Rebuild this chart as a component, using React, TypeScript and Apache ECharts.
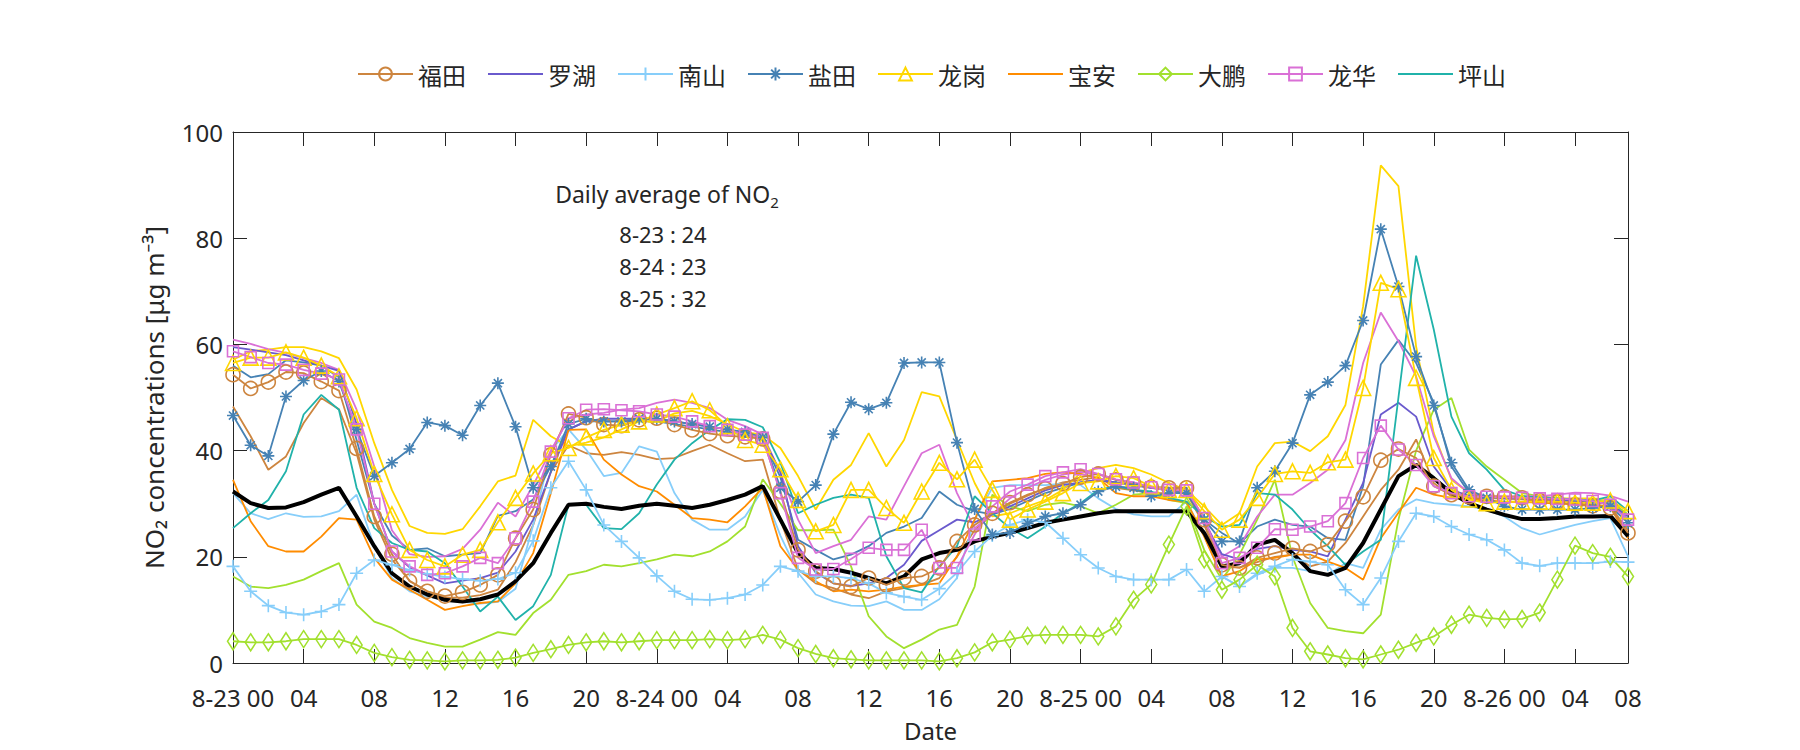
import React, { useEffect, useRef } from "react";
import * as echarts from "echarts";

// ---------- data ----------
const STATIONS = ["福田", "罗湖", "南山", "盐田", "龙岗", "宝安", "大鹏", "龙华", "坪山"];
const HOURS: string[] = Array.from({ length: 80 }, (_, i) => String(i));
const TICK_POS = [0, 4, 8, 12, 16, 20, 24, 28, 32, 36, 40, 44, 48, 52, 56, 60, 64, 68, 72, 76, 79];
const TICK_LABELS = ["8-23 00", "04", "08", "12", "16", "20", "8-24 00", "04", "08", "12", "16", "20",
  "8-25 00", "04", "08", "12", "16", "20", "8-26 00", "04", "08"];
const Y_TICKS = [0, 20, 40, 60, 80, 100];
const DAILY_DATES = ["8-23", "8-24", "8-25"];
const DAILY_AVG = [24, 23, 32];

// 福田 (markers) and companion plain line
const FT_O = [54.3, 51.7, 52.9, 54.8, 54.6, 53.0, 51.3, 40.4, 27.6, 20.5, 15.4, 13.5, 12.6, 13.3, 14.7, 16.6, 23.5, 28.9, 39.2, 46.9,
  46.2, 44.9, 44.7, 45.8, 46.1, 44.9, 43.9, 43.2, 42.8, 42.6, 42.2, 32.3, 21.3, 17.3, 15.0, 14.4, 16.0, 14.7, 16.0, 16.3,
  17.9, 22.9, 26.0, 28.2, 30.2, 31.7, 32.8, 33.8, 35.0, 35.6, 34.5, 33.8, 33.1, 33.0, 33.0, 27.0, 18.5, 17.9, 19.8, 20.7,
  21.6, 21.0, 22.3, 26.7, 31.3, 38.2, 40.3, 38.6, 33.3, 31.7, 31.3, 31.4, 31.3, 31.1, 30.6, 30.3, 29.8, 29.6, 29.2, 24.5];
const FT_M = [48.3, 42.7, 36.4, 38.9, 45.2, 49.9, 47.8, 39.5, 27.0, 19.5, 15.5, 13.5, 12.3, 12.3, 12.8, 13.8, 19.0, 26.0, 36.0, 41.0,
  39.5, 39.2, 39.7, 39.2, 38.4, 38.6, 39.9, 41.1, 39.5, 38.0, 38.3, 27.0, 17.6, 15.0, 14.1, 12.9, 12.2, 13.5, 14.1, 14.7,
  16.0, 20.0, 25.0, 28.0, 30.0, 31.5, 33.0, 34.0, 34.5, 35.0, 33.0, 32.5, 32.0, 32.0, 32.0, 26.0, 18.0, 18.0, 19.0, 20.0,
  20.4, 18.2, 19.1, 22.6, 27.6, 32.6, 36.4, 42.1, 33.9, 31.4, 31.0, 31.0, 31.0, 30.8, 30.5, 30.3, 30.0, 29.8, 29.5, 25.0];
// 罗湖
const LH = [59.5, 59.0, 58.5, 58.0, 57.0, 56.0, 55.0, 45.0, 30.0, 21.0, 18.0, 16.5, 15.0, 15.5, 16.0, 17.0, 21.0, 27.0, 36.0, 44.0,
  45.5, 46.0, 46.0, 46.0, 46.0, 45.5, 45.0, 44.5, 44.0, 43.0, 42.5, 36.0, 22.0, 17.0, 15.0, 14.5, 15.0, 16.0, 18.5, 23.0,
  25.0, 27.0, 26.5, 28.0, 29.5, 31.0, 32.5, 33.5, 34.0, 34.5, 34.0, 33.5, 33.0, 33.0, 32.5, 26.5, 20.5, 19.5, 21.5, 22.0,
  21.3, 21.0, 20.1, 27.0, 33.9, 46.8, 49.0, 46.4, 37.0, 32.6, 31.5, 31.3, 31.0, 31.0, 30.8, 30.6, 30.4, 30.2, 30.0, 27.6];
// 南山
const NS_O = [18.2, 13.5, 10.8, 9.5, 9.1, 9.7, 11.0, 16.9, 19.4, 18.5, 17.5, 16.8, 16.2, 15.8, 15.5, 15.8, 17.0, 23.0, 33.0, 38.0,
  32.6, 26.0, 22.9, 19.8, 16.4, 13.5, 12.0, 11.9, 12.2, 12.9, 14.7, 18.2, 17.3, 16.3, 16.3, 16.0, 15.0, 13.2, 12.5, 11.9,
  14.0, 17.0, 21.0, 24.0, 26.0, 27.0, 26.5, 23.5, 20.4, 17.9, 16.3, 15.7, 15.7, 15.7, 17.6, 13.5, 16.3, 14.4, 16.9, 18.2,
  19.5, 19.1, 18.5, 13.8, 11.0, 16.0, 22.9, 28.2, 27.6, 25.7, 24.2, 23.2, 21.3, 18.8, 18.3, 18.8, 18.8, 18.8, 19.1, 19.0];
const NS_M = [32.0, 28.2, 27.1, 28.2, 27.5, 27.6, 28.6, 31.7, 22.0, 16.0, 13.5, 12.5, 12.0, 11.5, 11.2, 11.5, 14.0, 26.0, 40.0, 44.0,
  40.2, 35.2, 35.8, 40.8, 39.8, 32.0, 27.0, 25.1, 25.1, 27.6, 32.6, 24.0, 17.0, 12.9, 11.6, 10.8, 10.7, 11.6, 10.0, 10.0,
  12.0, 16.0, 27.0, 33.0, 33.5, 33.5, 33.5, 33.8, 33.5, 31.0, 29.0, 28.0, 27.6, 27.6, 30.4, 24.0, 16.3, 14.4, 16.6, 17.9,
  17.9, 17.3, 16.6, 18.8, 17.9, 25.1, 28.9, 30.8, 30.1, 29.8, 29.5, 28.9, 27.6, 25.4, 24.2, 25.1, 26.0, 26.7, 27.3, 20.1];
// 盐田
const YT_O = [46.6, 41.0, 39.0, 50.2, 53.2, 55.0, 53.0, 44.0, 35.2, 37.7, 40.3, 45.3, 44.7, 42.9, 48.5, 52.7, 44.5, 33.0, 37.0, 45.0,
  46.0, 45.5, 45.5, 46.0, 46.0, 45.5, 45.0, 44.5, 44.0, 43.5, 42.5, 33.0, 30.4, 33.5, 43.1, 49.1, 47.8, 49.0, 56.5, 56.6,
  56.6, 41.5, 29.0, 24.2, 24.5, 26.3, 27.6, 28.2, 29.8, 32.3, 33.2, 33.0, 31.4, 32.0, 32.0, 27.0, 22.9, 22.9, 33.0, 36.1,
  41.4, 50.5, 52.9, 56.0, 64.5, 81.7, 70.9, 57.7, 48.5, 37.7, 32.6, 31.1, 29.5, 28.9, 28.9, 28.9, 28.9, 29.2, 29.5, 26.4];
const YT_M = [56.0, 53.8, 54.4, 57.0, 56.6, 56.0, 53.8, 42.0, 30.0, 24.0, 21.3, 21.6, 20.1, 20.4, 20.7, 27.7, 28.6, 30.8, 37.1, 44.0,
  45.5, 45.5, 45.5, 45.5, 45.5, 45.0, 44.5, 44.0, 43.5, 43.0, 42.0, 35.0, 23.2, 21.3, 19.5, 20.4, 22.0, 24.5, 25.7, 27.3,
  32.3, 29.8, 28.6, 28.0, 29.0, 30.5, 32.0, 33.0, 34.0, 34.5, 34.0, 33.5, 33.0, 32.5, 32.0, 27.0, 24.5, 22.5, 25.7, 27.0,
  26.0, 25.7, 23.5, 23.2, 33.3, 56.2, 60.8, 56.5, 49.0, 37.0, 32.0, 31.2, 31.0, 31.0, 30.8, 30.6, 30.5, 30.3, 30.0, 27.0];
// 龙岗
const LG_O = [56.5, 57.5, 57.5, 58.5, 57.5, 56.0, 54.0, 46.1, 35.6, 28.0, 21.3, 19.4, 18.2, 20.4, 21.3, 26.5, 31.1, 35.7, 39.5, 40.5,
  42.5, 43.9, 44.9, 45.5, 46.8, 48.0, 49.3, 47.6, 44.6, 42.0, 41.1, 36.5, 30.7, 24.8, 26.0, 32.6, 32.6, 29.2, 26.4, 32.3,
  37.7, 34.6, 38.3, 32.6, 27.0, 28.9, 30.4, 32.0, 33.9, 34.2, 35.2, 34.8, 33.3, 32.6, 32.6, 28.6, 25.1, 27.0, 31.1, 35.6,
  36.1, 35.8, 37.8, 38.3, 51.8, 71.6, 70.4, 53.7, 38.6, 32.6, 30.8, 30.1, 30.4, 30.4, 30.4, 30.4, 30.2, 30.2, 30.6, 28.6];
const LG_M = [57.1, 58.7, 59.0, 59.5, 59.5, 58.7, 57.4, 51.5, 41.4, 32.6, 25.8, 24.5, 24.3, 25.2, 29.5, 34.2, 35.3, 45.8, 42.7, 40.8,
  41.5, 42.5, 44.0, 45.5, 45.5, 47.0, 47.5, 46.5, 45.0, 43.5, 43.0, 40.5, 35.2, 28.9, 34.5, 37.3, 43.3, 37.0, 42.0, 51.0,
  50.2, 42.0, 33.9, 27.6, 28.2, 29.5, 30.7, 32.6, 35.8, 36.7, 37.3, 36.7, 35.5, 33.9, 32.6, 29.5, 26.0, 28.2, 37.0, 41.4,
  41.7, 39.9, 42.7, 48.6, 67.2, 93.7, 89.8, 59.6, 43.3, 34.5, 32.0, 31.2, 31.0, 31.0, 31.0, 31.0, 31.0, 31.0, 30.8, 27.6];
// 宝安
const BA = [34.5, 26.7, 22.0, 21.0, 21.0, 23.8, 27.3, 27.0, 19.8, 15.7, 13.8, 11.9, 10.0, 10.7, 11.3, 11.6, 15.0, 20.7, 32.0, 43.9,
  44.0, 38.3, 35.5, 33.3, 32.3, 29.8, 27.3, 27.0, 26.5, 29.5, 33.0, 22.0, 17.6, 15.4, 13.5, 13.8, 13.5, 13.8, 14.4, 14.7,
  15.0, 20.1, 27.0, 34.2, 34.5, 34.8, 35.6, 35.9, 35.6, 34.8, 32.0, 31.4, 31.4, 30.7, 30.4, 23.8, 16.3, 17.3, 19.5, 19.8,
  20.4, 20.4, 19.1, 17.9, 15.7, 23.5, 28.3, 33.0, 31.7, 31.1, 30.8, 30.6, 30.4, 30.3, 30.2, 30.0, 29.9, 29.7, 29.4, 23.5];
// 大鹏
const DP_O = [4.1, 3.9, 3.9, 4.1, 4.5, 4.5, 4.5, 3.4, 1.9, 1.1, 0.6, 0.5, 0.3, 0.5, 0.5, 0.6, 1.0, 1.9, 2.6, 3.4,
  3.9, 4.1, 3.9, 4.1, 4.3, 4.3, 4.3, 4.5, 4.3, 4.5, 5.3, 4.4, 2.8, 1.7, 0.9, 0.7, 0.5, 0.5, 0.5, 0.5,
  0.3, 0.9, 2.0, 3.9, 4.4, 5.1, 5.3, 5.3, 5.3, 5.0, 6.9, 11.9, 14.8, 22.3, 29.5, 19.5, 13.8, 15.7, 18.5, 16.3,
  6.6, 2.2, 1.6, 0.9, 0.7, 1.6, 2.5, 3.8, 5.0, 7.2, 9.1, 8.5, 8.2, 8.3, 9.5, 15.7, 22.1, 20.7, 20.0, 16.3];
const DP_M = [16.3, 14.4, 14.1, 14.7, 15.7, 17.3, 18.8, 11.0, 7.8, 6.6, 4.7, 3.8, 3.1, 3.1, 4.4, 5.8, 5.3, 9.4, 11.9, 16.6,
  17.3, 18.5, 18.2, 18.8, 19.5, 20.4, 20.1, 21.0, 22.9, 25.7, 34.6, 30.0, 25.0, 25.0, 25.1, 18.2, 8.8, 5.0, 2.8, 4.4,
  6.3, 7.2, 14.4, 31.7, 29.5, 28.6, 29.8, 30.2, 29.5, 28.2, 29.8, 31.7, 32.0, 30.7, 30.1, 21.3, 15.7, 20.4, 27.0, 34.5,
  20.0, 11.3, 6.6, 6.0, 5.6, 9.1, 27.0, 40.0, 47.7, 49.9, 40.2, 37.0, 34.5, 32.0, 31.4, 31.0, 30.8, 30.6, 30.4, 28.0];
// 龙华
const LHUA_O = [58.7, 57.6, 56.5, 56.2, 55.2, 54.5, 53.4, 44.0, 30.0, 21.0, 18.2, 16.6, 16.9, 18.2, 19.8, 18.8, 23.5, 30.4, 39.8, 46.1,
  47.7, 47.8, 47.6, 47.4, 46.8, 46.4, 45.5, 44.6, 43.9, 43.0, 42.4, 32.0, 19.8, 17.6, 17.7, 19.6, 21.7, 21.3, 21.3, 25.1,
  17.9, 17.9, 24.2, 29.5, 32.3, 33.6, 35.2, 35.9, 36.5, 35.6, 34.6, 34.0, 33.1, 32.6, 32.5, 27.3, 18.8, 19.8, 21.7, 25.2,
  25.1, 25.7, 26.7, 30.1, 38.6, 44.7, 40.2, 37.3, 33.3, 32.0, 31.4, 31.3, 31.2, 31.1, 31.0, 30.9, 30.8, 30.5, 29.8, 27.0];
const LHUA_M = [60.9, 60.1, 59.1, 58.4, 57.4, 56.5, 55.2, 47.7, 37.0, 25.0, 20.5, 20.0, 20.1, 21.5, 25.1, 30.2, 27.6, 33.5, 40.0, 46.0,
  46.8, 47.1, 47.7, 48.0, 49.0, 49.6, 49.0, 48.0, 45.8, 44.6, 43.0, 35.8, 27.0, 20.7, 22.0, 23.2, 27.6, 27.0, 33.3, 39.5,
  41.1, 32.0, 25.4, 28.0, 31.0, 33.0, 34.5, 35.5, 36.0, 35.5, 34.5, 34.0, 33.0, 32.5, 32.5, 27.0, 20.0, 22.0, 27.6, 31.7,
  31.7, 33.9, 36.4, 42.0, 56.5, 66.0, 60.6, 54.0, 42.7, 34.8, 32.0, 31.4, 31.4, 31.4, 31.4, 31.7, 32.1, 32.0, 31.5, 30.4];
// 坪山
const PS = [25.4, 28.2, 30.7, 36.1, 46.8, 50.5, 47.7, 33.0, 25.4, 22.6, 21.3, 21.0, 18.8, 14.4, 9.7, 12.5, 8.1, 10.7, 16.6, 29.8,
  29.8, 25.4, 25.2, 28.2, 33.6, 38.3, 41.4, 43.9, 45.9, 45.8, 44.4, 37.7, 28.2, 29.8, 31.1, 31.7, 31.1, 20.1, 14.1, 13.3,
  18.2, 22.0, 31.4, 28.2, 25.4, 23.5, 25.7, 28.2, 30.1, 32.6, 33.3, 32.6, 32.3, 31.1, 30.4, 27.6, 25.7, 26.0, 32.0, 31.7,
  28.9, 25.1, 22.0, 18.5, 21.0, 23.2, 50.0, 76.7, 62.8, 46.4, 39.5, 36.4, 32.6, 31.4, 31.2, 31.0, 30.8, 30.6, 31.4, 28.6];
// average (black)
const MEAN = [32.3, 30.1, 29.2, 29.3, 30.3, 31.7, 33.0, 27.6, 22.0, 16.9, 14.4, 12.9, 11.9, 11.6, 12.0, 12.9, 15.4, 18.8, 24.5, 29.8,
  30.0, 29.4, 29.0, 29.6, 30.0, 29.6, 29.2, 29.8, 30.7, 31.7, 33.3, 27.0, 20.7, 17.9, 17.7, 17.0, 16.0, 15.0, 16.3, 19.5,
  20.7, 21.3, 22.9, 23.8, 24.5, 25.4, 26.4, 27.0, 27.6, 28.2, 28.6, 28.6, 28.6, 28.6, 28.6, 24.5, 18.2, 18.8, 22.3, 23.2,
  20.7, 17.3, 16.6, 17.9, 22.6, 28.9, 35.2, 37.3, 34.8, 32.0, 30.1, 28.9, 27.9, 27.1, 27.1, 27.3, 27.6, 27.6, 27.7, 23.9];

// ---------- styles ----------
const FONT = "'Noto Sans', 'DejaVu Sans', sans-serif";
const CJK = "'Noto Sans CJK SC', 'Noto Sans', sans-serif";
const INK = "#262626";
const COLORS: Record<string, string> = {
  ft: "#CD853F", lh: "#6A5ACD", ns: "#87CEFA", yt: "#4682B4", lg: "#FFD700",
  ba: "#FF8C00", dp: "#A2E02E", lhua: "#DA70D6", ps: "#20B2AA",
};
const PLUS = "path://M5,0L5,10M0,5L10,5";
const STAR = "path://M5,0L5,10M0,5L10,5M1.6,1.6L8.4,8.4M1.6,8.4L8.4,1.6";

const tickSet = new Set(TICK_POS);
const isTick = (i: number) => tickSet.has(i);
const labelOf = (i: number) => TICK_LABELS[TICK_POS.indexOf(i)] ?? "";

function mk(name: string, data: number[], color: string, symbol?: string, symbolSize?: any, width = 1.8): any {
  return {
    type: "line",
    name,
    data,
    xAxisIndex: 0,
    yAxisIndex: 0,
    symbol: symbol || "none",
    symbolSize: symbolSize || 4,
    showSymbol: !!symbol,
    showAllSymbol: true,
    silent: true,
    lineStyle: { color, width },
    itemStyle: symbol
      ? { color: "rgba(0,0,0,0)", borderColor: color, borderWidth: 1.6 }
      : { color: "rgba(0,0,0,0)", borderWidth: 0 },
    emphasis: { disabled: true },
  };
}

function buildOption(): any {
  const series = [
    mk("福田 ", FT_M, COLORS.ft),
    mk("南山 ", NS_M, COLORS.ns),
    mk("盐田 ", YT_M, COLORS.yt),
    mk("龙岗 ", LG_M, COLORS.lg),
    mk("大鹏 ", DP_M, COLORS.dp),
    mk("龙华 ", LHUA_M, COLORS.lhua),
    mk(STATIONS[1], LH, COLORS.lh),
    mk(STATIONS[5], BA, COLORS.ba),
    mk(STATIONS[8], PS, COLORS.ps),
    mk("平均", MEAN, "#000000", undefined, undefined, 4),
    mk(STATIONS[0], FT_O, COLORS.ft, "circle", 14),
    mk(STATIONS[2], NS_O, COLORS.ns, PLUS, 13),
    mk(STATIONS[3], YT_O, COLORS.yt, STAR, 12),
    mk(STATIONS[4], LG_O, COLORS.lg, "triangle", 15),
    mk(STATIONS[6], DP_O, COLORS.dp, "diamond", [11, 17]),
    mk(STATIONS[7], LHUA_O, COLORS.lhua, "rect", 11),
  ];

  const axisLine = { show: true, onZero: false, lineStyle: { color: INK, width: 1 } };
  const xTick = { show: true, inside: true, length: 14, interval: (i: number) => isTick(i), lineStyle: { color: INK } };
  const yTick = { show: true, inside: true, length: 14, lineStyle: { color: INK } };

  return {
    animation: false,
    backgroundColor: "#ffffff",
    grid: { left: 233, top: 132, width: 1395, height: 531, containLabel: false },
    legend: {
      data: STATIONS,
      left: 352,
      top: 57,
      itemWidth: 55,
      itemHeight: 16,
      itemGap: 21,
      textStyle: { fontSize: 24, fontFamily: CJK, color: INK },
      selectedMode: false,
    },
    xAxis: [
      {
        type: "category",
        data: HOURS,
        boundaryGap: false,
        position: "bottom",
        axisLine,
        axisTick: xTick,
        axisLabel: {
          interval: (i: number) => isTick(i),
          formatter: (v: string) => labelOf(Number(v)),
          fontSize: 24,
          lineHeight: 26,
          fontFamily: FONT,
          color: INK,
          margin: 21,
        },
        splitLine: { show: false },
        name: "Date",
        nameLocation: "middle",
        nameGap: 55,
        nameTextStyle: { fontSize: 24, fontFamily: FONT, color: INK },
      },
      {
        type: "category",
        data: HOURS,
        boundaryGap: false,
        position: "top",
        axisLine,
        axisTick: xTick,
        axisLabel: { show: false },
        splitLine: { show: false },
      },
    ],
    yAxis: [
      {
        type: "value",
        min: Y_TICKS[0],
        max: Y_TICKS[Y_TICKS.length - 1],
        interval: Y_TICKS[1] - Y_TICKS[0],
        position: "left",
        axisLine,
        axisTick: yTick,
        axisLabel: { fontSize: 24, lineHeight: 26, fontFamily: FONT, color: INK, margin: 10 },
        splitLine: { show: false },
        name: "NO₂ concentrations [μg m⁻³]",
        nameLocation: "middle",
        nameRotate: 90,
        nameGap: 66,
        nameTextStyle: { fontSize: 26, fontFamily: FONT, color: INK },
      },
      {
        type: "value",
        min: Y_TICKS[0],
        max: Y_TICKS[Y_TICKS.length - 1],
        interval: Y_TICKS[1] - Y_TICKS[0],
        position: "right",
        axisLine,
        axisTick: yTick,
        axisLabel: { show: false },
        splitLine: { show: false },
      },
    ],
    graphic: [
      {
        type: "text",
        x: 667,
        y: 194,
        silent: true,
        style: {
          text: "{a|Daily average of NO}{s|2}",
          align: "center",
          verticalAlign: "middle",
          rich: {
            a: { fontSize: 23, fontFamily: FONT, fill: INK, lineHeight: 30 },
            s: { fontSize: 15, fontFamily: FONT, fill: INK, lineHeight: 15, verticalAlign: "bottom" },
          },
        },
      },
      ...DAILY_DATES.map((d, i) => ({
        type: "text",
        x: 663,
        y: 234 + i * 32,
        silent: true,
        style: {
          text: `${d} : ${DAILY_AVG[i]}`,
          fontSize: 22,
          fontFamily: FONT,
          fill: INK,
          align: "center",
          verticalAlign: "middle",
        },
      })),
    ],
    series,
  };
}

export default function App() {
  const ref = useRef<HTMLDivElement>(null);
  useEffect(() => {
    if (!ref.current) return;
    const chart = echarts.init(ref.current, null, { renderer: "svg" });
    chart.setOption(buildOption());
    return () => chart.dispose();
  }, []);
  return (
    <div
      ref={ref}
      style={{ position: "fixed", left: 0, top: 0, width: 1800, height: 750, background: "#ffffff" }}
    />
  );
}
